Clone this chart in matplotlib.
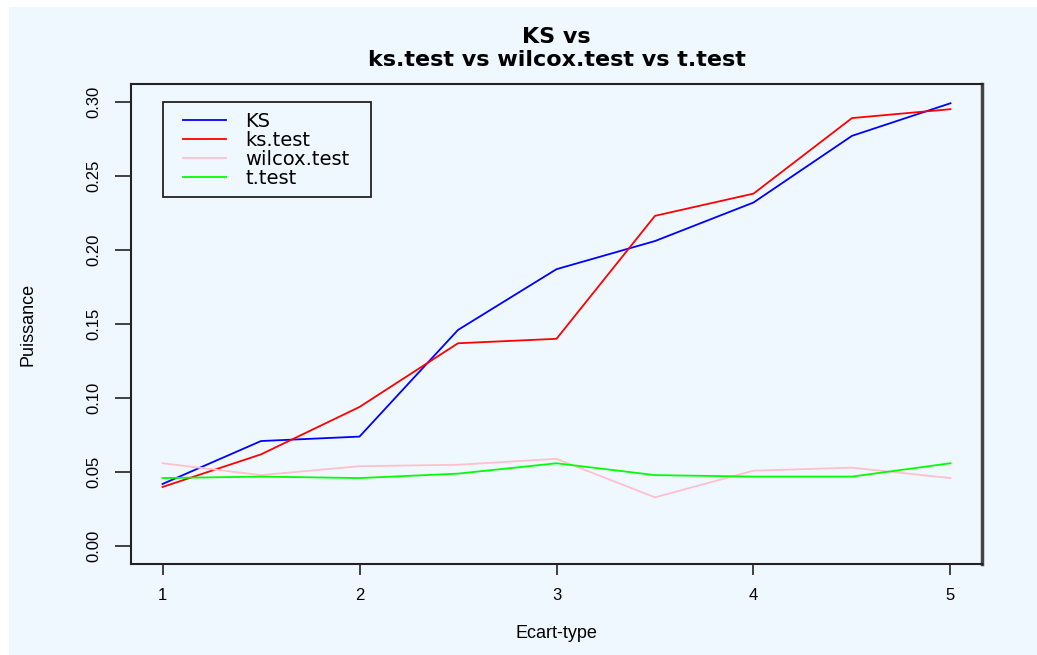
import matplotlib
matplotlib.use("Agg")
import matplotlib.pyplot as plt
from matplotlib.patches import Rectangle

# Ecart-type values and the power (puissance) of each test
ecart_type = [1, 1.5, 2, 2.5, 3, 3.5, 4, 4.5, 5]
ks = [0.042, 0.071, 0.074, 0.146, 0.187, 0.206, 0.232, 0.277, 0.299]
ks_test = [0.040, 0.062, 0.094, 0.137, 0.140, 0.223, 0.238, 0.289, 0.295]
wilcox_test = [0.056, 0.048, 0.054, 0.055, 0.059, 0.033, 0.051, 0.053, 0.046]
t_test = [0.046, 0.047, 0.046, 0.049, 0.056, 0.048, 0.047, 0.047, 0.056]

series_names = ["KS", "ks.test", "wilcox.test", "t.test"]
series_colors = ["#0000FF", "#FF0000", "#FFC0CB", "#00FF00"]
x_ticks = [1, 2, 3, 4, 5]
y_ticks = [0.00, 0.05, 0.10, 0.15, 0.20, 0.25, 0.30]

bg = "#F0F8FF"
narrow = ["Liberation Sans Narrow", "Liberation Sans", "DejaVu Sans"]

W, H = 1037, 655
fig = plt.figure(figsize=(W / 100, H / 100), dpi=100, facecolor="white")
# light blue panel, leaving a thin white margin on the top and left
fig.patches.append(Rectangle((9 / W, 0), 1 - 9 / W, 1 - 7 / H, transform=fig.transFigure,
                             facecolor=bg, edgecolor="none", zorder=-10))

ax = fig.add_axes([131 / W, 1 - 564 / H, (982 - 131) / W, (564 - 84) / H])
ax.set_facecolor(bg)

for vals, name, col in zip([ks, ks_test, wilcox_test, t_test], series_names, series_colors):
    ax.plot(ecart_type, vals, color=col, lw=1.3, label=name)

ax.set_xlim(0.84, 5.16)
ax.set_ylim(-0.012, 0.312)
ax.set_xticks(x_ticks)
ax.set_xticklabels([str(v) for v in x_ticks], family=narrow, fontsize=12)
ax.set_yticks(y_ticks)
ax.set_yticklabels([f"{v:.2f}" for v in y_ticks], family=narrow, fontsize=12,
                   rotation=90, va="center")
ax.tick_params(axis="x", length=8, width=1.2, pad=9, color="#222222")
ax.tick_params(axis="y", length=11.5, width=1.2, pad=10, color="#222222")

for s in ax.spines.values():
    s.set_linewidth(1.5)
    s.set_color("#222222")
ax.spines["right"].set_linewidth(2.5)
ax.spines["right"].set_color("#444444")

# legend box drawn separately so the padding matches R's legend()
ax.add_patch(Rectangle((0.0376, 0.7646), 0.282 - 0.0376, 0.9625 - 0.7646,
                       transform=ax.transAxes, facecolor=bg, edgecolor="#222222",
                       lw=1.3, zorder=4))
leg = ax.legend(loc="upper left", bbox_to_anchor=(0.0611, 0.9417), borderaxespad=0,
                borderpad=0, frameon=False,
                prop={"family": "DejaVu Sans", "size": 14},
                handlelength=2.2, handletextpad=1.0, labelspacing=0.0)
leg.set_zorder(5)

cx = (131 + 982) / 2 / W
fig.text(cx, 1 - 37 / H, "KS vs", ha="center", va="center",
         family="DejaVu Sans", weight="bold", fontsize=16)
fig.text(cx, 1 - 60 / H, "ks.test vs wilcox.test vs t.test", ha="center", va="center",
         family="DejaVu Sans", weight="bold", fontsize=16)
fig.text(cx, 1 - 633 / H, "Ecart-type", ha="center", va="center",
         family=narrow, fontsize=13)
fig.text(28 / W, 1 - 324 / H, "Puissance", ha="center", va="center", rotation=90,
         family=narrow, fontsize=13)

fig.savefig("out.png", dpi=100, facecolor="white")
